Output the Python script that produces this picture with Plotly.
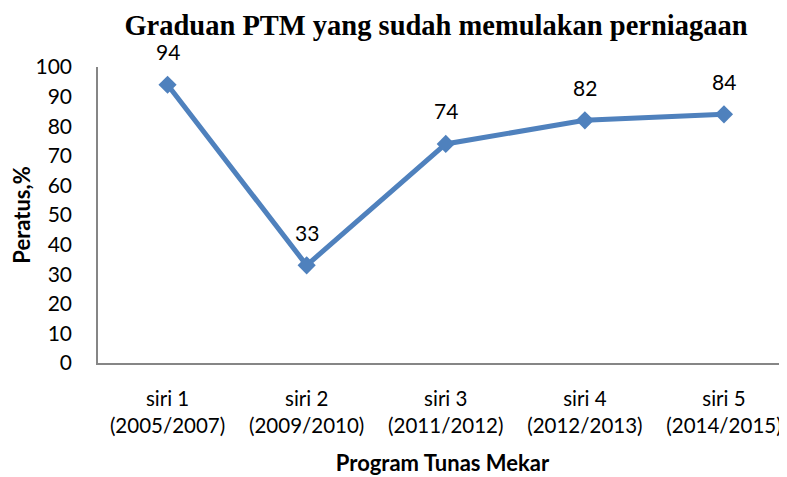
import plotly.graph_objects as go

categories = ["siri 1<br>(2005/2007)", "siri 2<br>(2009/2010)", "siri 3<br>(2011/2012)",
              "siri 4<br>(2012/2013)", "siri 5<br>(2014/2015)"]
values = [94, 33, 74, 82, 84]
y_ticks = [0, 10, 20, 30, 40, 50, 60, 70, 80, 90, 100]

title_text = "Graduan PTM yang sudah memulakan perniagaan"
x_title = "Program Tunas Mekar"
y_title = "Peratus,%"

BLUE = "#4F81BD"
AXIS = "#868686"
FONT = "Lato, 'Open Sans', sans-serif"

# page body has an 8px default margin, so the figure is sized to fit the 787x477 window
W, H = 779, 469

idx = list(range(len(categories)))

fig = go.Figure()
fig.add_trace(go.Scatter(
    x=idx, y=values, mode="lines+markers",
    line=dict(color=BLUE, width=5),
    marker=dict(symbol="diamond", size=14, color=BLUE),
    hoverinfo="skip", showlegend=False,
))

for xi, v in zip(idx, values):
    fig.add_annotation(x=xi, y=v, text=str(v), showarrow=False,
                       yshift=33, yanchor="middle",
                       font=dict(family=FONT, size=21, color="#000000"))

fig.update_layout(
    width=W, height=H,
    margin=dict(l=90, r=0, t=59, b=114, autoexpand=False),
    paper_bgcolor="white", plot_bgcolor="white",
    title=dict(text="<b>" + title_text + "</b>", x=428 / W, xanchor="center",
               xref="container", y=1 - 17 / H, yanchor="middle", yref="container",
               font=dict(family="'Liberation Serif', 'Times New Roman', serif", size=28.5, color="#000000")),
    xaxis=dict(
        tickmode="array", tickvals=idx, ticktext=categories,
        range=[-0.5, 4.453], showgrid=False, zeroline=False, automargin=False,
        showline=True, linecolor=AXIS, linewidth=1.5,
        ticks="", ticklabelstandoff=17,
        tickfont=dict(family=FONT, size=20.5, color="#000000"),
        title=dict(text="<b>" + x_title + "</b>", standoff=20,
                   font=dict(family=FONT, size=22, color="#000000")),
    ),
    yaxis=dict(
        range=[0, 100], tickmode="array", tickvals=y_ticks, automargin=False,
        showgrid=False, zeroline=False,
        showline=True, linecolor=AXIS, linewidth=1.5,
        ticks="", ticklabelstandoff=20,
        tickfont=dict(family=FONT, size=21, color="#000000"),
        title=dict(text="<b>" + y_title + "</b>", standoff=6,
                   font=dict(family=FONT, size=22, color="#000000")),
    ),
)

fig.write_html("out.html")
